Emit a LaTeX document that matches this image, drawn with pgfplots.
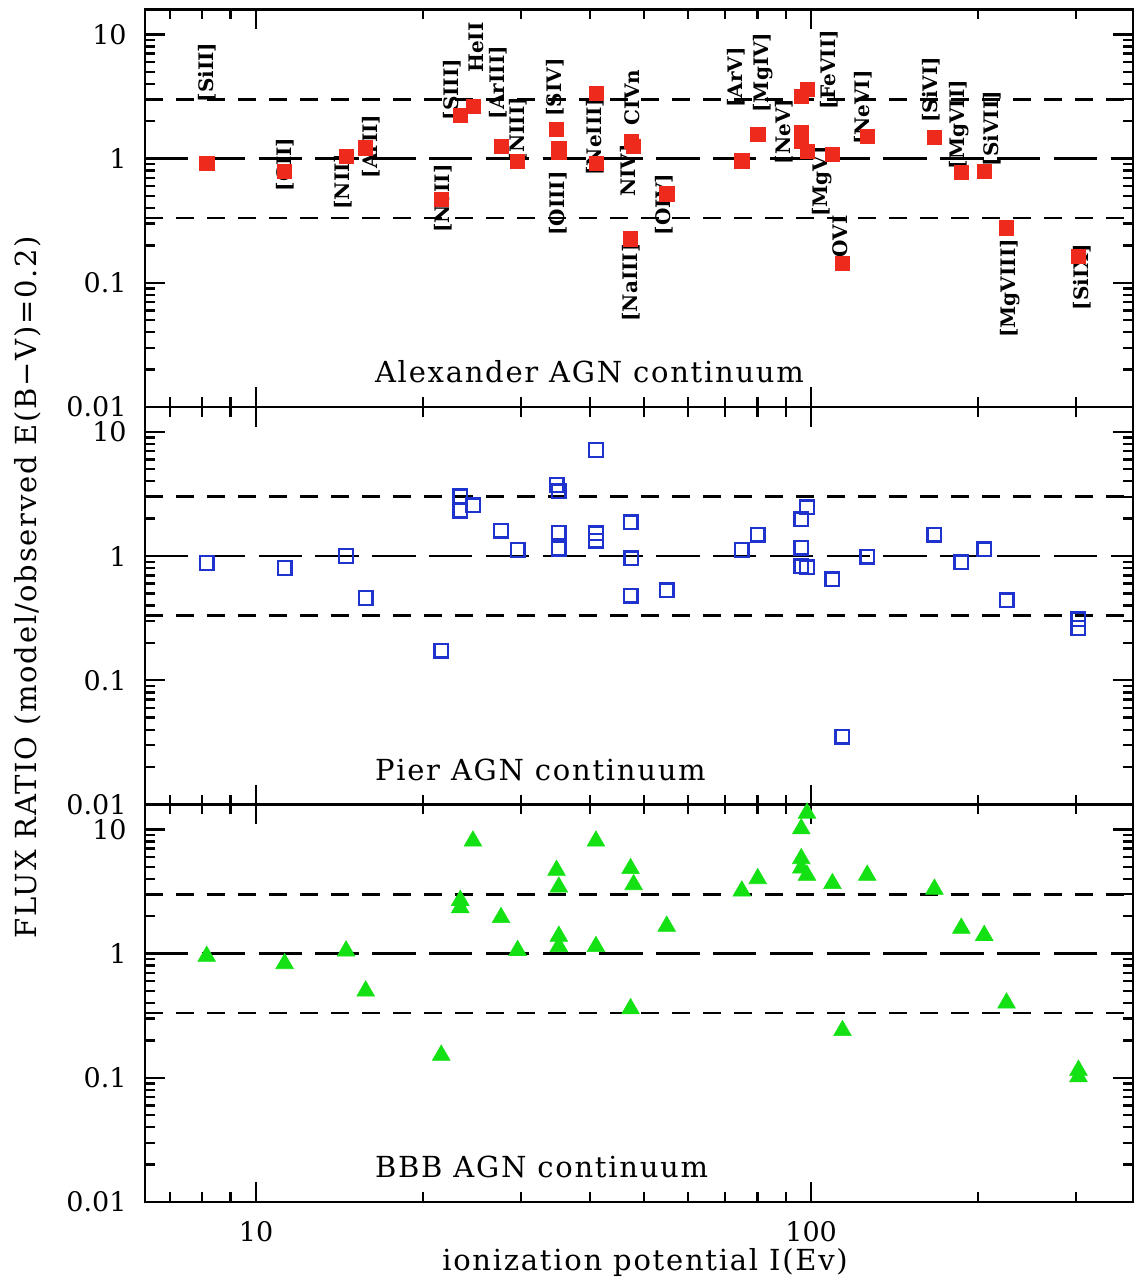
\documentclass[border=0pt]{standalone}
\usepackage{pgfplots}
\pgfplotsset{compat=1.18}
\usepackage{fontspec}
\setmainfont{DejaVu Serif}
\newfontfamily\txtfont{DejaVu Serif}[LetterSpace=6]
\definecolor{myred}{RGB}{238,42,28}
\definecolor{myblue}{RGB}{30,50,205}
\definecolor{mygreen}{RGB}{20,225,20}
\tikzset{
  myhl/.style={black, line width=1.3pt, dash pattern=on 9pt off 6.5pt},
  myhlong/.style={black, line width=1.3pt, dash pattern=on 21.7pt off 6.7pt},
}
\newcommand\lbl{\fontsize{10}{10}\selectfont\bfseries}
\newcommand\ptxt{\txtfont\fontsize{14.5}{14.5}\selectfont}
\newcommand\tkf{\fontsize{13.5}{13.5}\selectfont}
\begin{document}
\begin{tikzpicture}
\useasboundingbox (0,0) rectangle (567.5pt,639.5pt);
% ---------------- top panel
\begin{axis}[at={(72.5pt,436pt)}, anchor=south west,
    xmode=log, ymode=log,
    scale only axis, width=494pt, height=198.75pt,
    xmin=6.3096, xmax=380.19, ymin=0.01, ymax=15.849,
    axis line style={line width=1.2pt},
    every tick/.style={black, line width=1.2pt},
    tick align=inside,
    xtick={10,100}, xticklabels={},
    minor xtick={7,8,9,20,30,40,50,60,70,80,90,200,300},
    ytick={0.01,0.1,1,10},
    yticklabels={0.01,0.1,1,10},
    minor ytick={0.02,0.03,0.04,0.05,0.06,0.07,0.08,0.09,0.2,0.3,0.4,0.5,0.6,0.7,0.8,0.9,2,3,4,5,6,7,8,9},
    major tick length=10pt, minor tick length=5pt,
    yticklabel style={font=\tkf, anchor=east, inner sep=0pt, xshift=-9pt}]
\addplot[myhl] coordinates {(6.3096,3) (380.19,3)};
\addplot[myhlong] coordinates {(6.3096,1) (380.19,1)};
\addplot[myhl] coordinates {(6.3096,0.3333) (380.19,0.3333)};
\addplot[only marks, mark=square*, mark size=3.55pt, color=myred, line width=0.3pt] coordinates {
(8.15,0.92) (11.26,0.79) (14.53,1.04) (15.76,1.22) (21.56,0.47) (23.33,2.22) (24.59,2.63)
(27.63,1.26) (29.60,0.95) (34.79,1.71) (35.12,1.20) (35.12,1.12) (40.96,3.33) (40.96,0.92)
(47.45,1.38) (47.89,1.26) (47.29,0.226) (54.94,0.52) (75.02,0.96) (80.14,1.56)
(98.3,3.63) (96.0,3.17) (96.0,1.61) (96.0,1.38) (98.3,1.15) (109.24,1.08) (113.9,0.143)
(126.21,1.51) (166.77,1.49) (186.5,0.77) (205.05,0.79) (224.95,0.277) (303.17,0.164)
};
\node[rotate=90, font=\lbl] at (axis cs:8.16,4.92) {[SiII]};
\node[rotate=90, font=\lbl] at (axis cs:11.28,0.895) {[CII]};
\node[rotate=90, font=\lbl] at (axis cs:14.35,0.653) {[NII]};
\node[rotate=90, font=\lbl] at (axis cs:16.11,1.249) {[ArII]};
\node[rotate=90, font=\lbl] at (axis cs:21.73,0.4767) {[NeII]};
\node[rotate=90, font=\lbl] at (axis cs:22.55,3.59) {[SIII]};
\node[rotate=90, font=\lbl] at (axis cs:24.91,7.82) {HeII};
\node[rotate=90, font=\lbl] at (axis cs:27.29,4.09) {[ArIII]};
\node[rotate=90, font=\lbl] at (axis cs:29.65,1.712) {[NIII]};
\node[rotate=90, font=\lbl] at (axis cs:34.57,3.73) {[SIV]};
\node[rotate=90, font=\lbl] at (axis cs:35.0,0.4345) {[OIII]};
\node[rotate=90, font=\lbl] at (axis cs:40.8,1.503) {[NeIII]};
\node[rotate=90, font=\lbl] at (axis cs:47.6,3.095) {CIVn};
\node[rotate=90, font=\lbl] at (axis cs:47.0,0.8006) {NIV]};
\node[rotate=90, font=\lbl] at (axis cs:47.4,0.1006) {[NaIII]};
\node[rotate=90, font=\lbl] at (axis cs:54.34,0.4265) {[OIV]};
\node[rotate=90, font=\lbl] at (axis cs:73.3,4.48) {[ArV]};
\node[rotate=90, font=\lbl] at (axis cs:81.9,4.92) {[MgIV]};
\node[rotate=90, font=\lbl] at (axis cs:89.4,1.649) {[NeV]};
\node[rotate=90, font=\lbl] at (axis cs:107.8,5.2) {[FeVII]};
\node[rotate=90, font=\lbl] at (axis cs:104.7,0.653) {[MgV]};
\node[rotate=90, font=\lbl] at (axis cs:112.8,0.2358) {OVI};
\node[rotate=90, font=\lbl] at (axis cs:124.1,2.572) {[NeVI]};
\node[rotate=90, font=\lbl] at (axis cs:164.5,3.59) {[SiVI]};
\node[rotate=90, font=\lbl] at (axis cs:184.8,1.877) {[MgVII]};
\node[rotate=90, font=\lbl] at (axis cs:211.9,1.743) {[SiVII]};
\node[rotate=90, font=\lbl] at (axis cs:228.4,0.09) {[MgVIII]};
\node[rotate=90, font=\lbl] at (axis cs:307.8,0.1104) {[SiIX]};
\node[anchor=base west, font=\ptxt] at (rel axis cs:0.2257,0.0604) {Alexander AGN continuum};
\end{axis}
% ---------------- middle panel
\begin{axis}[at={(72.5pt,237.25pt)}, anchor=south west,
    xmode=log, ymode=log,
    scale only axis, width=494pt, height=198.75pt,
    xmin=6.3096, xmax=380.19, ymin=0.01, ymax=15.849,
    axis line style={line width=1.2pt},
    every tick/.style={black, line width=1.2pt},
    tick align=inside,
    xtick={10,100}, xticklabels={},
    minor xtick={7,8,9,20,30,40,50,60,70,80,90,200,300},
    ytick={0.01,0.1,1,10},
    yticklabels={0.01,0.1,1,10},
    minor ytick={0.02,0.03,0.04,0.05,0.06,0.07,0.08,0.09,0.2,0.3,0.4,0.5,0.6,0.7,0.8,0.9,2,3,4,5,6,7,8,9},
    major tick length=10pt, minor tick length=5pt,
    yticklabel style={font=\tkf, anchor=east, inner sep=0pt, xshift=-9pt}]
\addplot[myhl] coordinates {(6.3096,3) (380.19,3)};
\addplot[myhlong] coordinates {(6.3096,1) (380.19,1)};
\addplot[myhl] coordinates {(6.3096,0.3333) (380.19,0.3333)};
\addplot[only marks, mark=square, mark size=3.4pt, color=myblue, line width=1.2pt] coordinates {
(8.15,0.88) (11.26,0.80) (14.53,1.00) (15.76,0.46) (21.56,0.173) (23.33,3.03) (23.33,2.31)
(24.59,2.57) (27.63,1.60) (29.60,1.12) (34.79,3.73) (35.12,3.33) (35.12,1.54) (35.12,1.15)
(40.96,7.13) (40.96,1.52) (40.96,1.33) (47.29,0.48) (47.45,0.96) (47.29,1.87) (54.94,0.53)
(75.02,1.12) (80.14,1.49) (98.3,2.47) (96.0,1.97) (96.0,1.17) (96.0,0.83) (98.3,0.81)
(109.24,0.65) (113.9,0.0352) (126.21,0.99) (166.77,1.49) (186.5,0.89) (205.05,1.13)
(224.95,0.44) (303.17,0.31) (303.17,0.264)
};
\node[anchor=base west, font=\ptxt] at (rel axis cs:0.2257,0.0604) {Pier AGN continuum};
\end{axis}
% ---------------- bottom panel
\begin{axis}[at={(72.5pt,38.5pt)}, anchor=south west,
    xmode=log, ymode=log,
    scale only axis, width=494pt, height=198.75pt,
    xmin=6.3096, xmax=380.19, ymin=0.01, ymax=15.849,
    axis line style={line width=1.2pt},
    every tick/.style={black, line width=1.2pt},
    tick align=inside,
    xtick={10,100}, xticklabels={10,100},
    minor xtick={7,8,9,20,30,40,50,60,70,80,90,200,300},
    ytick={0.01,0.1,1,10},
    yticklabels={0.01,0.1,1,10},
    minor ytick={0.02,0.03,0.04,0.05,0.06,0.07,0.08,0.09,0.2,0.3,0.4,0.5,0.6,0.7,0.8,0.9,2,3,4,5,6,7,8,9},
    major tick length=10pt, minor tick length=5pt,
    yticklabel style={font=\tkf, anchor=east, inner sep=0pt, xshift=-9pt},
    xticklabel style={font=\tkf, anchor=north, inner sep=0pt, yshift=-9.5pt}]
\addplot[myhl] coordinates {(6.3096,3) (380.19,3)};
\addplot[myhlong] coordinates {(6.3096,1) (380.19,1)};
\addplot[myhl] coordinates {(6.3096,0.3333) (380.19,0.3333)};
\addplot[only marks, mark=triangle*, mark size=5.1pt, color=mygreen, line width=0.3pt] coordinates {
(8.15,0.95) (11.26,0.83) (14.53,1.05) (15.76,0.50) (21.56,0.152) (23.33,2.68) (23.33,2.34)
(24.59,8.05) (27.63,1.95) (29.60,1.06) (34.79,4.68) (35.12,3.43) (35.12,1.38) (35.12,1.14)
(40.96,8.05) (40.96,1.14) (47.29,4.83) (47.89,3.59) (47.29,0.36) (54.94,1.66)
(75.02,3.19) (80.14,4.01) (98.3,13.5) (96.0,10.1) (96.0,5.81) (96.0,4.88) (98.3,4.27)
(109.24,3.66) (113.9,0.24) (126.21,4.27) (166.77,3.3) (186.5,1.6) (205.05,1.4)
(224.95,0.40) (303.17,0.115) (303.17,0.102)
};
\node[anchor=base west, font=\ptxt] at (rel axis cs:0.2257,0.0604) {BBB AGN continuum};
\end{axis}
\node[anchor=base, font=\ptxt] at (322.5pt,4.5pt) {ionization potential I(Ev)};
\node[rotate=90, font=\ptxt] at (14pt,346pt) {FLUX RATIO (model/observed E(B−V)=0.2)};
\end{tikzpicture}
\end{document}
